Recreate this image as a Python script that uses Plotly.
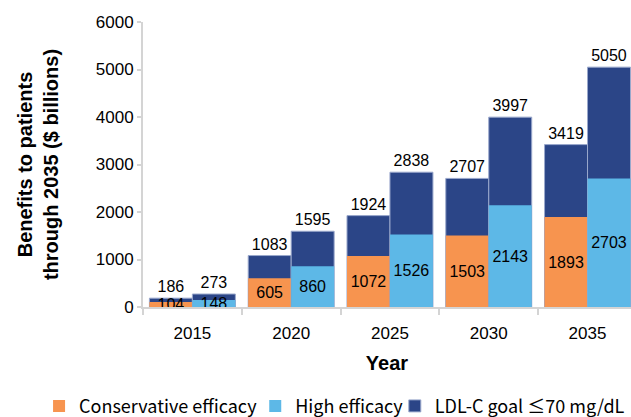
import plotly.graph_objects as go

years = ['2015', '2020', '2025', '2030', '2035']
conservative = [104, 605, 1072, 1503, 1893]
conservative_total = [186, 1083, 1924, 2707, 3419]
high = [148, 860, 1526, 2143, 2703]
high_total = [273, 1595, 2838, 3997, 5050]

ORANGE = '#F7944F'
LIGHT = '#5DB8E7'
DARK = '#2B4587'
EDGE = '#9AA8CC'
AXIS = '#D4D4D4'
FONT = 'Liberation Sans, Arial, sans-serif'

fig = go.Figure()

# dark blue total bars first, the efficacy bars are drawn over them
fig.add_trace(go.Bar(x=years, y=conservative_total, offsetgroup='a',
                     name='LDL-C goal ≤70 mg/dL', legend='legend3',
                     marker={'color': DARK, 'line': {'color': EDGE, 'width': 1}},
                     text=conservative_total, textposition='outside',
                     cliponaxis=False))
fig.add_trace(go.Bar(x=years, y=conservative, offsetgroup='a',
                     name='Conservative efficacy', legend='legend',
                     marker={'color': ORANGE, 'line': {'width': 0}},
                     text=conservative, textposition='inside',
                     insidetextanchor='middle'))
fig.add_trace(go.Bar(x=years, y=high_total, offsetgroup='b',
                     name='LDL-C goal ≤70 mg/dL', showlegend=False,
                     marker={'color': DARK, 'line': {'color': EDGE, 'width': 1}},
                     text=high_total, textposition='outside',
                     cliponaxis=False))
fig.add_trace(go.Bar(x=years, y=high, offsetgroup='b',
                     name='High efficacy', legend='legend2',
                     marker={'color': LIGHT, 'line': {'width': 0}},
                     text=high, textposition='inside',
                     insidetextanchor='middle'))

fig.update_traces(textfont={'family': FONT, 'size': 16, 'color': 'black'},
                  constraintext='none', textangle=0)

# one legend per entry so each can sit where the reference puts it
legend_style = {
    'orientation': 'h',
    'y': -0.348,
    'xanchor': 'left', 'yanchor': 'middle',
    'font': {'family': 'Noto Sans CJK JP', 'size': 18, 'color': 'black'},
    'itemwidth': 30,
    'bgcolor': 'rgba(0,0,0,0)',
}

fig.update_layout(
    width=631, height=417,
    barmode='group',
    bargap=0.13,
    bargroupgap=0,
    plot_bgcolor='white',
    paper_bgcolor='white',
    font={'family': FONT, 'size': 17, 'color': 'black'},
    margin={'l': 143, 'r': 0, 't': 22, 'b': 110, 'pad': 0, 'autoexpand': False},
    legend={**legend_style, 'x': -0.213},
    legend2={**legend_style, 'x': 0.230},
    legend3={**legend_style, 'x': 0.516},
)

fig.update_xaxes(
    type='category',
    range=[-0.5, 4.44],
    showline=True, linecolor=AXIS, linewidth=2,
    ticks='outside', tickson='boundaries', ticklen=6, tickcolor=AXIS, tickwidth=2,
    ticklabelstandoff=10,
    showgrid=False,
    title={'text': '<b>Year</b>', 'font': {'size': 20}, 'standoff': 14},
)

fig.update_yaxes(
    range=[0, 6000],
    dtick=1000,
    showline=True, linecolor=AXIS, linewidth=2,
    ticks='outside', ticklen=4, tickcolor=AXIS, tickwidth=2,
    ticklabelstandoff=0,
    showgrid=False, zeroline=False,
    title={'text': '<b>Benefits to patients<br>through 2035 ($ billions)</b>',
           'font': {'size': 20}, 'standoff': 32},
)

fig.write_html('out.html', config={'displayModeBar': False},
               post_script="document.body.style.margin = '0px';")
